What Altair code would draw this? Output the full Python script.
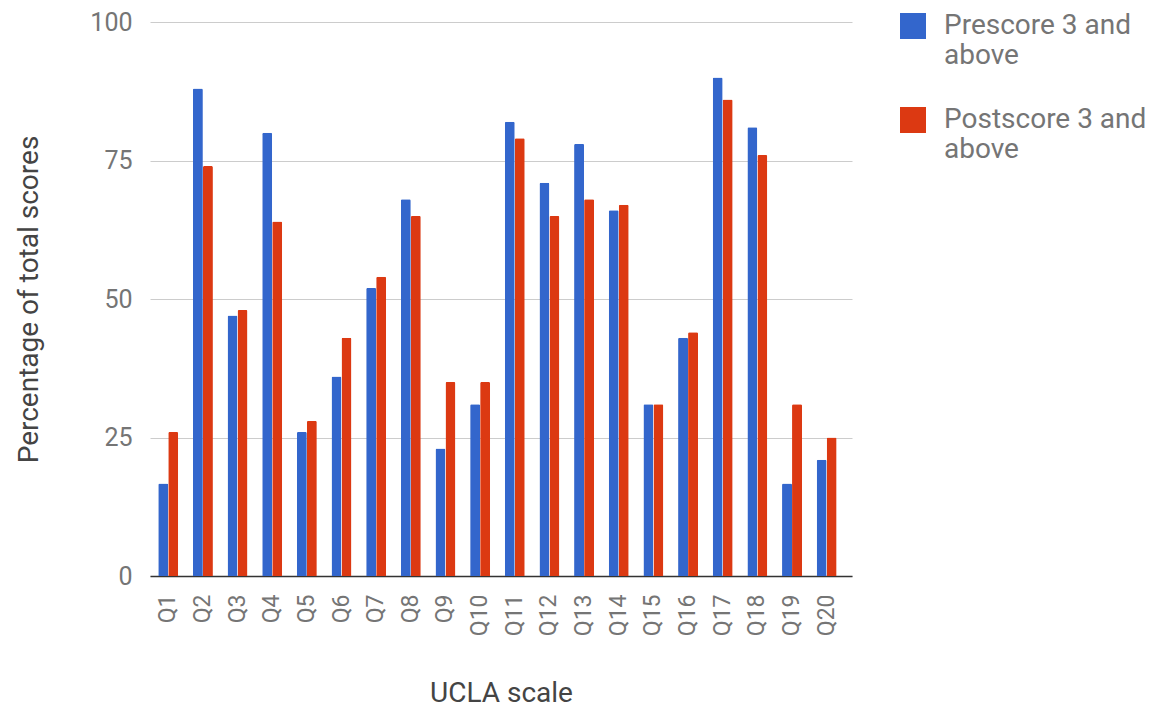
import altair as alt
import pandas as pd

questions = [f"Q{i}" for i in range(1, 21)]
pre = [16.7, 88, 47, 80, 26, 36, 52, 68, 23, 31, 82, 71, 78, 66, 31, 43, 90, 81, 16.7, 21]
post = [26, 74, 48, 64, 28, 43, 54, 65, 35, 35, 79, 65, 68, 67, 31, 44, 86, 76, 31, 25]
series = ["Prescore 3 and above", "Postscore 3 and above"]
colors = ["#3366CC", "#DC3912"]
y_ticks = [0, 25, 50, 75, 100]

rows = []
for q, a, b in zip(questions, pre, post):
    rows.append({"question": q, "series": series[0], "value": a})
    rows.append({"question": q, "series": series[1], "value": b})
df = pd.DataFrame(rows)

FONT = "Roboto"

chart = alt.Chart(df).mark_bar(cornerRadiusTopLeft=1.5, cornerRadiusTopRight=1.5).encode(
    x=alt.X("question:N", sort=questions,
            scale=alt.Scale(paddingInner=0.423, paddingOuter=0.34, align=0.35),
            axis=alt.Axis(title="UCLA scale", labelAngle=270, ticks=False,
                          labelPadding=18, labelFontSize=23, labelColor="#757575",
                          labelFont=FONT, titleFont=FONT, titleFontSize=28,
                          titleFontWeight="normal", titleColor="#444444",
                          titlePadding=44, domainColor="#333333", domainWidth=1.5,
                          grid=False)),
    xOffset=alt.XOffset("series:N", sort=series,
                        scale=alt.Scale(paddingInner=0, paddingOuter=0)),
    y=alt.Y("value:Q", scale=alt.Scale(domain=[0, 100], nice=False),
            axis=alt.Axis(title="Percentage of total scores", values=y_ticks,
                          ticks=False, domain=False, labelPadding=18,
                          labelFontSize=25, labelColor="#757575", labelFont=FONT,
                          titleFont=FONT, titleFontSize=28, titleFontWeight="normal",
                          titleColor="#444444", titlePadding=46,
                          gridColor="#cccccc", gridWidth=1)),
    color=alt.Color("series:N", sort=series,
                    scale=alt.Scale(domain=series, range=colors),
                    legend=alt.Legend(title=None, orient="none", legendX=749, legendY=-10,
                                      symbolType="square", symbolSize=676,
                                      symbolStrokeWidth=0, labelFont=FONT,
                                      labelFontSize=28, labelColor="#757575",
                                      labelOffset=17, rowPadding=36,
                                      labelBaseline="middle",
                                      labelExpr="datum.label == 'Prescore 3 and above' ? ['Prescore 3 and', 'above'] : ['Postscore 3 and', 'above']",
                                      labelLimit=400)),
).properties(
    width=702, height=554,
    padding={"left": 142, "top": 14, "right": 305, "bottom": 133},
    autosize=alt.AutoSizeParams(type="none"),
).configure_view(stroke=None)

chart.save("out.html", embed_options={"renderer": "svg", "actions": False})
